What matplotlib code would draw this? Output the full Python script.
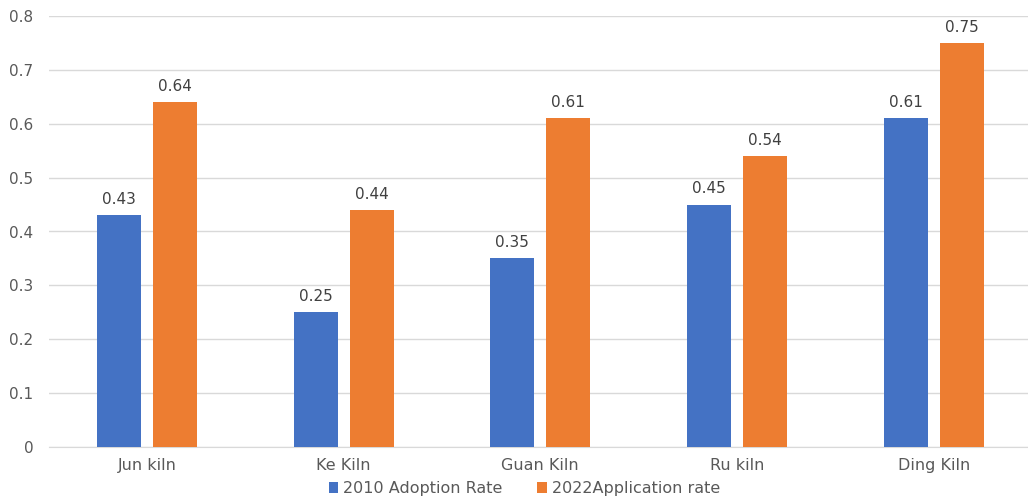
import matplotlib.pyplot as plt
import numpy as np

# 데이터
categories = ['Jun kiln', 'Ke Kiln', 'Guan Kiln', 'Ru kiln', 'Ding Kiln']
rate_2010 = [0.43, 0.25, 0.35, 0.45, 0.61]
rate_2022 = [0.64, 0.44, 0.61, 0.54, 0.75]
series_names = ['2010 Adoption Rate', '2022Application rate']
yticks = [0, 0.1, 0.2, 0.3, 0.4, 0.5, 0.6, 0.7, 0.8]

blue = '#4472C4'
orange = '#ED7D31'
txt = '#595959'

fig = plt.figure(figsize=(10.28, 4.98), dpi=100)
ax = fig.add_axes([48.6 / 1028, 51 / 498, (1028 - 48.6) / 1028, 431 / 498])

x = np.arange(len(categories))
w = 0.224
off = 0.142
b1 = ax.bar(x - off, rate_2010, w, color=blue, label=series_names[0], zorder=3)
b2 = ax.bar(x + off, rate_2022, w, color=orange, label=series_names[1], zorder=3)

for bars in (b1, b2):
    for b in bars:
        ax.annotate(f'{b.get_height():.2f}', (b.get_x() + b.get_width() / 2, b.get_height()),
                    xytext=(0, 6), textcoords='offset points', ha='center', va='bottom',
                    fontsize=11, color='#404040')

ax.set_xlim(-0.5, 4.5 - 4 / 196.75)
ax.set_ylim(0, 0.8)
ax.set_yticks(yticks)
ax.set_yticklabels(['0' if v == 0 else f'{v:.1f}' for v in yticks])
ax.set_xticks(x)
ax.set_xticklabels(categories)
ax.tick_params(axis='both', length=0, colors=txt, labelsize=11)
ax.tick_params(axis='y', pad=11)
ax.tick_params(axis='x', labelsize=11.5, pad=8)
ax.grid(axis='y', color='#D9D9D9', linewidth=1, zorder=0)
for s in ['top', 'right', 'left']:
    ax.spines[s].set_visible(False)
ax.spines['bottom'].set_color('#D9D9D9')

fig.legend(handles=[b1, b2], loc='lower center', bbox_to_anchor=(0.51, -0.025), ncol=2,
           frameon=False, fontsize=11.5, labelcolor=txt, handlelength=0.6, handleheight=0.6,
           handletextpad=0.3, columnspacing=2.2)

fig.savefig('out.png', dpi=100)
